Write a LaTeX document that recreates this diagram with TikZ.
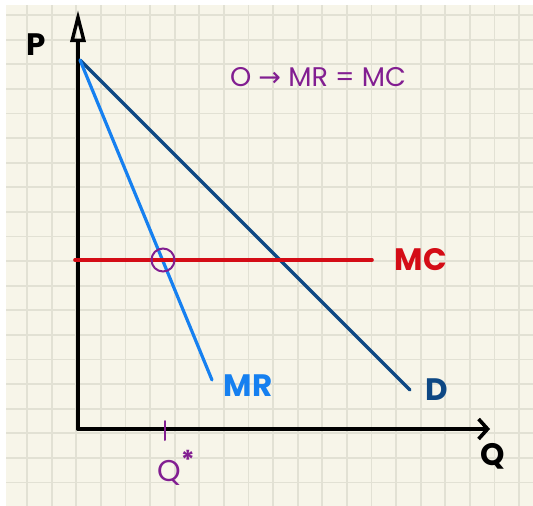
\documentclass[tikz,border=0pt]{standalone}
\usepackage{fontspec}
\setmainfont{Poppins}
\newfontfamily\symfont{DejaVu Sans}
\usetikzlibrary{arrows.meta}
\definecolor{cream}{RGB}{247,245,233}
\definecolor{gridc}{RGB}{226,225,212}
\definecolor{navy}{RGB}{14,72,132}
\definecolor{mrblue}{RGB}{22,128,240}
\definecolor{mcred}{RGB}{212,12,22}
\definecolor{purp}{RGB}{130,30,145}
\tikzset{
  axis/.style={line width=3.6pt, black, line cap=round},
  curve/.style={line width=3.2pt, line cap=round},
  lbl/.style={inner sep=0pt, font=\fontsize{31}{34}\selectfont\bfseries},
  note/.style={inner sep=0pt, text=purp, font=\fontsize{27}{30}\selectfont},
}
\begin{document}
\begin{tikzpicture}[x=1pt,y=-1pt]
\useasboundingbox (0,0) rectangle (533,506);
\fill[white] (0,0) rectangle (533,506);
\fill[cream] (6,5) rectangle (533,506);
\begin{scope}
\clip (6,5) rectangle (533,506);
\foreach \k in {0,...,20} \draw[gridc, line width=1.8pt] ({27+24.6*\k},5) -- ({27+24.6*\k},506);
\foreach \k in {0,...,19} \draw[gridc, line width=1.8pt] (6,{15+24.6*\k}) -- (533,{15+24.6*\k});
\end{scope}
% axes
\coordinate (O) at (78,429);
\coordinate (Ptop) at (78,10);
\coordinate (Qend) at (490,429);
\draw[axis, -{Triangle[open, length=32pt, width=15pt, line width=3.4pt]}] (O) -- (Ptop);
\draw[axis, -{Straight Barb[length=9pt, width=20pt, line width=3.6pt]}] (O) -- (Qend);
% curves
\coordinate (A) at (80,60);
\coordinate (Dend) at (410,390);
\coordinate (MRend) at (212,380);
\coordinate (MCs) at (75,260);
\coordinate (MCe) at (372,260);
\draw[curve, navy] (A) -- (Dend);
\draw[curve, mrblue] (A) -- (MRend);
\draw[curve, mcred, line width=3.6pt] (MCs) -- (MCe);
\node[draw=purp, line width=2pt, circle, minimum size=23pt, inner sep=0pt] (opt) at (163,260) {};
\coordinate (t1) at (165,421);
\coordinate (t2) at (165,440);
\draw[purp, line width=2pt, line cap=round] (t1) -- (t2);
% labels
\node[lbl] (P) at (36,45) {P};
\node[lbl] (Q) at (493,456) {Q};
\node[lbl, text=mrblue] (MR) at (248,386) {MR};
\node[lbl, text=mcred] (MC) at (421,260) {MC};
\node[lbl, text=navy] (D) at (437,390) {D};
\node[note, font=\fontsize{30}{32}\selectfont] (Qs) at (176,468) {Q\raisebox{0.4em}{\fontsize{26}{26}\selectfont\bfseries *}};
\node[note] (cond) at (318,77) {O {\symfont→} MR = MC};
\end{tikzpicture}
\end{document}
